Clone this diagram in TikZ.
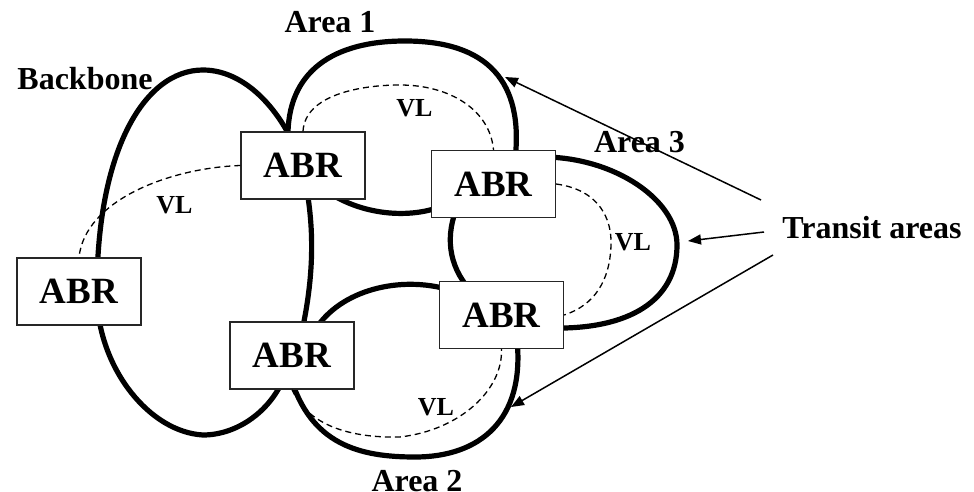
\documentclass[tikz,border=0pt]{standalone}
\usepackage{fontspec}
\setmainfont{Liberation Serif}
\usetikzlibrary{arrows.meta}
\begin{document}
\begin{tikzpicture}[x=1pt,y=-1pt,
  area/.style={line width=5.2pt, line cap=round},
  vl/.style={line width=1.3pt, dash pattern=on 6pt off 4pt},
  abr/.style={draw=black!85, line width=1.3pt, fill=white, minimum width=124pt,
    minimum height=67pt, inner sep=0pt, font=\fontsize{37}{40}\selectfont\bfseries},
  lbl/.style={font=\fontsize{32}{36}\selectfont\bfseries, anchor=base, inner sep=0pt},
  vllbl/.style={font=\fontsize{26}{30}\selectfont\bfseries, anchor=base, inner sep=0pt},
  pointer/.style={line width=1.5pt, -{Triangle[length=13pt,width=10pt]}}
]
\fill[white] (0,0) rectangle (974,492);
\useasboundingbox (0,0) rectangle (974,492);

% Backbone
\draw[area] (97,300) .. controls (95,154) and (143,70) .. (203,70)
  .. controls (250,70) and (290,120) .. (305,175);
\draw[area] (305,180) .. controls (315,230) and (314,280) .. (300,340);
\draw[area] (285,375) .. controls (272,410) and (238,435) .. (203,435)
  .. controls (150,432) and (100,370) .. (97,300);
% Area 1
\draw[area] (288,140) .. controls (286,70) and (335,41) .. (405,41)
  .. controls (488,41) and (524,82) .. (515,160);
\draw[area] (325,190) .. controls (360,215) and (410,220) .. (445,205);
% Area 3
\draw[area] (545,157) .. controls (615,158) and (677,200) .. (677,245)
  .. controls (677,300) and (630,330) .. (550,328);
\draw[area] (458,205) .. controls (445,235) and (448,265) .. (470,290);
% Area 2
\draw[area] (315,330) .. controls (340,290) and (400,275) .. (450,290);
\draw[area] (290,375) .. controls (310,445) and (360,457) .. (415,457)
  .. controls (480,457) and (525,420) .. (517,340);

% ABR boxes
\node[abr] (abr1) at (303,165.5) {ABR};
\node[abr] (abr2) at (493.5,184) {ABR};
\node[abr] (abr3) at (79,291.5) {ABR};
\node[abr] (abr4) at (292,355.5) {ABR};
\node[abr] (abr5) at (501.5,315) {ABR};

% Virtual links
\draw[vl] (abr1.west) .. controls (170,168) and (85,200) .. (abr3.north);
\draw[vl] (abr1.north) .. controls (305,95) and (360,85) .. (400,85)
  .. controls (450,85) and (490,110) .. (abr2.north);
\draw[vl] (abr2.east) .. controls (600,190) and (612,220) .. (611,245)
  .. controls (610,280) and (595,305) .. (abr5.east);
\draw[vl] (abr4.south) .. controls (310,430) and (360,438) .. (400,437)
  .. controls (460,430) and (503,390) .. (abr5.south);

% Labels
\node[lbl] (lbackbone) at (85,90) {Backbone};
\node[lbl] (larea1) at (330,33) {Area 1};
\node[lbl] (larea3) at (639.5,153) {Area 3};
\node[lbl] (larea2) at (417,491) {Area 2};
\node[lbl] (transit) at (872,238) {Transit areas};
\node[vllbl] (vl1) at (174.5,213) {VL};
\node[vllbl] (vl2) at (414.5,117) {VL};
\node[vllbl] (vl3) at (633,250) {VL};
\node[vllbl] (vl4) at (436,415) {VL};

% Pointers
\coordinate (t1) at (761,200);
\coordinate (t2) at (764,232);
\coordinate (t3) at (773,255);
\coordinate (h1) at (505,77);
\coordinate (h2) at (688,241);
\coordinate (h3) at (511,407);
\draw[pointer] (t1) -- (h1);
\draw[pointer] (t2) -- (h2);
\draw[pointer] (t3) -- (h3);
\end{tikzpicture}
\end{document}
